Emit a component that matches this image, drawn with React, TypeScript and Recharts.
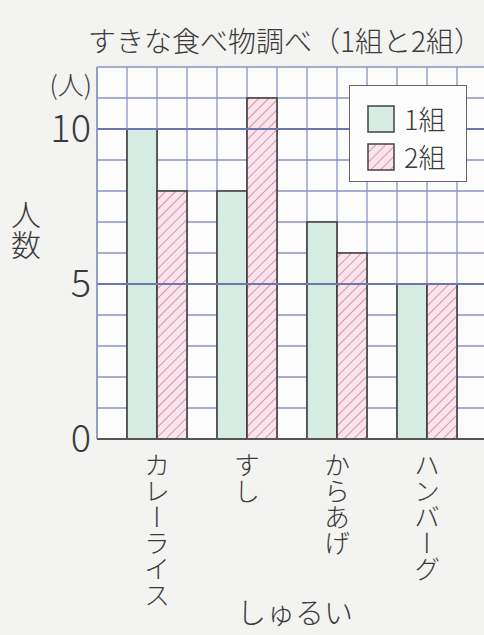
import { BarChart, Bar, XAxis, YAxis, CartesianGrid, ReferenceLine } from 'recharts';

const foods = ['カレーライス', 'すし', 'からあげ', 'ハンバーグ'];
const class1 = [10, 8, 7, 5];
const class2 = [8, 11, 6, 5];
const yTicks = [0, 1, 2, 3, 4, 5, 6, 7, 8, 9, 10, 11, 12];
const labeledTicks = [0, 5, 10];
const seriesNames = ['1組', '2組'];

const FONT = '"Noto Sans CJK JP", "Noto Sans", sans-serif';
const INK = '#3a3a3a';
const GRID = '#8c94c6';

const data = foods.map((food, i) => ({ food, c1: class1[i], c2: class2[i] }));

function FoodTick({ x, y, payload }: any) {
  return (
    <text
      x={x}
      y={y + 5}
      style={{ writingMode: 'vertical-rl' }}
      fontSize={26}
      fontWeight={300}
      fill={INK}
      fontFamily={FONT}
    >
      {payload.value}
    </text>
  );
}

function LegendBox() {
  const swatches = ['#d6ebe2', 'url(#hatch2)'];
  return (
    <div
      style={{
        position: 'absolute',
        left: 349,
        top: 85,
        width: 118,
        height: 97,
        border: '1.5px solid #666',
        background: '#fdfdfd',
        boxSizing: 'border-box',
        paddingTop: 14,
        paddingLeft: 17,
        fontFamily: FONT,
        fontWeight: 300,
        color: INK,
      }}
    >
      {seriesNames.map((name, i) => (
        <div key={name} style={{ display: 'flex', alignItems: 'center', height: 38 }}>
          <svg width={28} height={28}>
            <rect x={1} y={1} width={26} height={26} fill={swatches[i]} stroke="#444" strokeWidth={1.5} />
          </svg>
          <span style={{ fontSize: 27, marginLeft: 9, lineHeight: '28px' }}>{name}</span>
        </div>
      ))}
    </div>
  );
}

export default function App() {
  return (
    <div style={{ position: 'fixed', left: 0, top: 0, width: 484, height: 635, overflow: 'hidden', background: '#f3f3f1' }}>
      <svg width={0} height={0} style={{ position: 'absolute' }}>
        <defs>
          <pattern id="hatch2" width={7} height={7} patternUnits="userSpaceOnUse" patternTransform="rotate(45)">
            <rect width={7} height={7} fill="#fae4ec" />
            <line x1={0} y1={0} x2={0} y2={7} stroke="#d47c9e" strokeWidth={1.6} />
          </pattern>
        </defs>
      </svg>
      <svg width={484} height={635} style={{ position: 'absolute', left: 0, top: 0 }} fontWeight={300}>
        <text x={88} y={52} fontSize={28} fill={INK} fontFamily={FONT}>
          すきな食べ物調べ（1組と2組）
        </text>
        <text x={92} y={95} textAnchor="end" fontSize={26} fill={INK} fontFamily={FONT}>
          (人)
        </text>
        <text x={26} y={200} style={{ writingMode: 'vertical-rl' }} fontSize={30} fill={INK} fontFamily={FONT}>
          人数
        </text>
        <text x={295} y={624} textAnchor="middle" fontSize={29} fill={INK} fontFamily={FONT}>
          しゅるい
        </text>
      </svg>
      <div style={{ position: 'absolute', left: 0, top: 0 }}>
        <BarChart
          width={500}
          height={635}
          data={data}
          margin={{ top: 67, right: 13, bottom: 0, left: 0 }}
          barCategoryGap={15}
          barGap={0}
        >
          <CartesianGrid
            stroke={GRID}
            strokeWidth={1.3}
            fill="#fcfcfc"
            verticalCoordinatesGenerator={({ offset }: any) =>
              Array.from({ length: 14 }, (_, i) => offset.left + i * 30)
            }
          />
          <XAxis
            dataKey="food"
            padding={{ left: 15, right: 15 }}
            height={196}
            tickLine={false}
            axisLine={{ stroke: '#555', strokeWidth: 2 }}
            tick={<FoodTick />}
            interval={0}
          />
          <YAxis
            width={97}
            domain={[0, 12]}
            ticks={yTicks}
            interval={0}
            tickLine={false}
            axisLine={{ stroke: GRID, strokeWidth: 1.5 }}
            tickFormatter={(v: number) => (labeledTicks.includes(v) ? String(v) : '')}
            tick={{ fontSize: 38, fill: INK, fontFamily: FONT, fontWeight: 300 }}
            tickMargin={0}
          />
          <ReferenceLine y={5} stroke="#6a77b0" strokeWidth={1.8} />
          <ReferenceLine y={10} stroke="#6a77b0" strokeWidth={1.8} />
          <Bar dataKey="c1" name={seriesNames[0]} fill="#d6ebe2" stroke="#3d3d3d" strokeWidth={1.6} isAnimationActive={false} />
          <Bar dataKey="c2" name={seriesNames[1]} fill="url(#hatch2)" stroke="#3d3d3d" strokeWidth={1.6} isAnimationActive={false} />
        </BarChart>
      </div>
      <LegendBox />
    </div>
  );
}
